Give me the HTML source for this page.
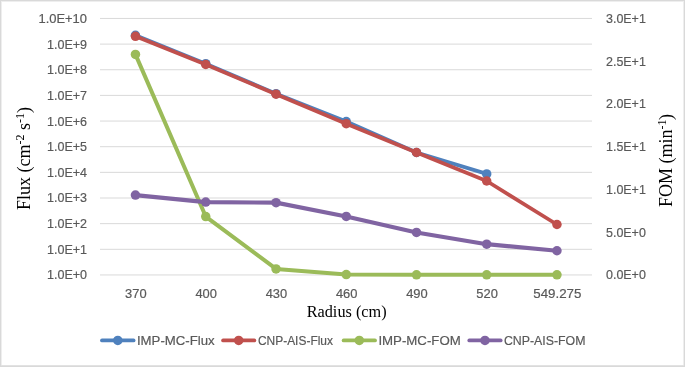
<!DOCTYPE html>
<html><head><meta charset="utf-8"><title>Flux and FOM vs Radius</title>
<style>
html,body{margin:0;padding:0;background:#fff;}
svg{display:block;}
.t{font-family:"Liberation Sans",Arial,sans-serif;font-size:13.5px;fill:#595959;stroke:#595959;stroke-width:0.2px;}
.s{font-family:"Liberation Serif","Times New Roman",serif;font-size:16.25px;fill:#000;}
.s2{font-family:"Liberation Serif","Times New Roman",serif;font-size:18px;fill:#000;}
</style></head><body>
<svg width="685" height="367" viewBox="0 0 685 367">
<rect x="0" y="0" width="685" height="367" fill="#fff"/>
<rect x="1.5" y="1.5" width="682" height="364" fill="none" stroke="#EEEEEE" stroke-width="1"/>
<line x1="1" y1="365.5" x2="684" y2="365.5" stroke="#E2E2E2" stroke-width="1"/>
<rect x="0.5" y="0.5" width="684" height="366" fill="none" stroke="#D9D9D9" stroke-width="1"/>
<line x1="100" y1="274.95" x2="592" y2="274.95" stroke="#D9D9D9" stroke-width="1"/>
<line x1="100" y1="249.30" x2="592" y2="249.30" stroke="#D9D9D9" stroke-width="1"/>
<line x1="100" y1="223.65" x2="592" y2="223.65" stroke="#D9D9D9" stroke-width="1"/>
<line x1="100" y1="198.00" x2="592" y2="198.00" stroke="#D9D9D9" stroke-width="1"/>
<line x1="100" y1="172.35" x2="592" y2="172.35" stroke="#D9D9D9" stroke-width="1"/>
<line x1="100" y1="146.70" x2="592" y2="146.70" stroke="#D9D9D9" stroke-width="1"/>
<line x1="100" y1="121.05" x2="592" y2="121.05" stroke="#D9D9D9" stroke-width="1"/>
<line x1="100" y1="95.40" x2="592" y2="95.40" stroke="#D9D9D9" stroke-width="1"/>
<line x1="100" y1="69.75" x2="592" y2="69.75" stroke="#D9D9D9" stroke-width="1"/>
<line x1="100" y1="44.10" x2="592" y2="44.10" stroke="#D9D9D9" stroke-width="1"/>
<line x1="100" y1="18.45" x2="592" y2="18.45" stroke="#D9D9D9" stroke-width="1"/>
<text x="87.00" y="279.40" text-anchor="end" textLength="40.01" lengthAdjust="spacingAndGlyphs" class="t">1.0E+0</text>
<text x="87.00" y="253.75" text-anchor="end" textLength="40.01" lengthAdjust="spacingAndGlyphs" class="t">1.0E+1</text>
<text x="87.00" y="228.10" text-anchor="end" textLength="40.01" lengthAdjust="spacingAndGlyphs" class="t">1.0E+2</text>
<text x="87.00" y="202.45" text-anchor="end" textLength="40.01" lengthAdjust="spacingAndGlyphs" class="t">1.0E+3</text>
<text x="87.00" y="176.80" text-anchor="end" textLength="40.01" lengthAdjust="spacingAndGlyphs" class="t">1.0E+4</text>
<text x="87.00" y="151.15" text-anchor="end" textLength="40.01" lengthAdjust="spacingAndGlyphs" class="t">1.0E+5</text>
<text x="87.00" y="125.50" text-anchor="end" textLength="40.01" lengthAdjust="spacingAndGlyphs" class="t">1.0E+6</text>
<text x="87.00" y="99.85" text-anchor="end" textLength="40.01" lengthAdjust="spacingAndGlyphs" class="t">1.0E+7</text>
<text x="87.00" y="74.20" text-anchor="end" textLength="40.01" lengthAdjust="spacingAndGlyphs" class="t">1.0E+8</text>
<text x="87.00" y="48.55" text-anchor="end" textLength="40.01" lengthAdjust="spacingAndGlyphs" class="t">1.0E+9</text>
<text x="87.00" y="22.90" text-anchor="end" textLength="48.47" lengthAdjust="spacingAndGlyphs" class="t">1.0E+10</text>
<text x="606.00" y="279.40" textLength="39.83" lengthAdjust="spacingAndGlyphs" class="t">0.0E+0</text>
<text x="606.00" y="236.65" textLength="39.83" lengthAdjust="spacingAndGlyphs" class="t">5.0E+0</text>
<text x="606.00" y="193.90" textLength="39.83" lengthAdjust="spacingAndGlyphs" class="t">1.0E+1</text>
<text x="606.00" y="151.15" textLength="39.83" lengthAdjust="spacingAndGlyphs" class="t">1.5E+1</text>
<text x="606.00" y="108.40" textLength="39.83" lengthAdjust="spacingAndGlyphs" class="t">2.0E+1</text>
<text x="606.00" y="65.65" textLength="39.83" lengthAdjust="spacingAndGlyphs" class="t">2.5E+1</text>
<text x="606.00" y="22.90" textLength="39.83" lengthAdjust="spacingAndGlyphs" class="t">3.0E+1</text>
<text x="135.85" y="298.30" text-anchor="middle" textLength="21.52" lengthAdjust="spacingAndGlyphs" class="t">370</text>
<text x="206.15" y="298.30" text-anchor="middle" textLength="21.52" lengthAdjust="spacingAndGlyphs" class="t">400</text>
<text x="276.45" y="298.30" text-anchor="middle" textLength="21.52" lengthAdjust="spacingAndGlyphs" class="t">430</text>
<text x="346.65" y="298.30" text-anchor="middle" textLength="21.52" lengthAdjust="spacingAndGlyphs" class="t">460</text>
<text x="416.90" y="298.30" text-anchor="middle" textLength="21.52" lengthAdjust="spacingAndGlyphs" class="t">490</text>
<text x="487.10" y="298.30" text-anchor="middle" textLength="21.52" lengthAdjust="spacingAndGlyphs" class="t">520</text>
<text x="557.35" y="298.30" text-anchor="middle" textLength="48.19" lengthAdjust="spacingAndGlyphs" class="t">549.275</text>
<text x="306.7" y="317.4" class="s">Radius (cm)</text>
<text transform="translate(30.2,210.0) rotate(-90)" class="s2">Flux (cm<tspan font-size="12" dy="-6">-2</tspan><tspan dy="6"> s</tspan><tspan font-size="12" dy="-6">-1</tspan><tspan dy="6">)</tspan></text>
<text transform="translate(672.2,207.0) rotate(-90)" class="s2">FOM (min<tspan font-size="12" dy="-6">-1</tspan><tspan dy="6" dx="-0.5">)</tspan></text>
<polyline points="135.45,35.30 205.75,63.70 276.05,93.70 346.25,121.60 416.50,152.50 486.70,173.90" fill="none" stroke="#4F81BD" stroke-width="3.8" stroke-linejoin="round" stroke-linecap="round"/><circle cx="135.45" cy="35.30" r="4.75" fill="#4F81BD"/><circle cx="205.75" cy="63.70" r="4.75" fill="#4F81BD"/><circle cx="276.05" cy="93.70" r="4.75" fill="#4F81BD"/><circle cx="346.25" cy="121.60" r="4.75" fill="#4F81BD"/><circle cx="416.50" cy="152.50" r="4.75" fill="#4F81BD"/><circle cx="486.70" cy="173.90" r="4.75" fill="#4F81BD"/>
<polyline points="135.45,36.30 205.75,64.50 276.05,94.20 346.25,123.70 416.50,152.50 486.70,181.00 556.95,224.50" fill="none" stroke="#C0504D" stroke-width="3.8" stroke-linejoin="round" stroke-linecap="round"/><circle cx="135.45" cy="36.30" r="4.75" fill="#C0504D"/><circle cx="205.75" cy="64.50" r="4.75" fill="#C0504D"/><circle cx="276.05" cy="94.20" r="4.75" fill="#C0504D"/><circle cx="346.25" cy="123.70" r="4.75" fill="#C0504D"/><circle cx="416.50" cy="152.50" r="4.75" fill="#C0504D"/><circle cx="486.70" cy="181.00" r="4.75" fill="#C0504D"/><circle cx="556.95" cy="224.50" r="4.75" fill="#C0504D"/>
<polyline points="135.45,54.40 205.75,216.55 276.05,268.90 346.25,274.60 416.50,274.80 486.70,274.80 556.95,274.80" fill="none" stroke="#9BBB59" stroke-width="4.0" stroke-linejoin="round" stroke-linecap="round"/><circle cx="135.45" cy="54.40" r="4.75" fill="#9BBB59"/><circle cx="205.75" cy="216.55" r="4.75" fill="#9BBB59"/><circle cx="276.05" cy="268.90" r="4.75" fill="#9BBB59"/><circle cx="346.25" cy="274.60" r="4.75" fill="#9BBB59"/><circle cx="416.50" cy="274.80" r="4.75" fill="#9BBB59"/><circle cx="486.70" cy="274.80" r="4.75" fill="#9BBB59"/><circle cx="556.95" cy="274.80" r="4.75" fill="#9BBB59"/>
<polyline points="135.45,195.10 205.75,202.10 276.05,202.66 346.25,216.46 416.50,232.46 486.70,244.20 556.95,250.75" fill="none" stroke="#8064A2" stroke-width="4.2" stroke-linejoin="round" stroke-linecap="round"/><circle cx="135.45" cy="195.10" r="4.75" fill="#8064A2"/><circle cx="205.75" cy="202.10" r="4.75" fill="#8064A2"/><circle cx="276.05" cy="202.66" r="4.75" fill="#8064A2"/><circle cx="346.25" cy="216.46" r="4.75" fill="#8064A2"/><circle cx="416.50" cy="232.46" r="4.75" fill="#8064A2"/><circle cx="486.70" cy="244.20" r="4.75" fill="#8064A2"/><circle cx="556.95" cy="250.75" r="4.75" fill="#8064A2"/>
<line x1="102.00" y1="340.4" x2="133.60" y2="340.4" stroke="#4F81BD" stroke-width="3.8" stroke-linecap="round"/>
<circle cx="117.80" cy="340.4" r="4.75" fill="#4F81BD"/>
<text x="136.96" y="344.90" textLength="77.70" lengthAdjust="spacingAndGlyphs" class="t">IMP-MC-Flux</text>
<line x1="223.10" y1="340.4" x2="254.30" y2="340.4" stroke="#C0504D" stroke-width="3.8" stroke-linecap="round"/>
<circle cx="238.70" cy="340.4" r="4.75" fill="#C0504D"/>
<text x="257.90" y="344.90" textLength="75.12" lengthAdjust="spacingAndGlyphs" class="t">CNP-AIS-Flux</text>
<line x1="343.65" y1="340.4" x2="375.00" y2="340.4" stroke="#9BBB59" stroke-width="3.8" stroke-linecap="round"/>
<circle cx="359.32" cy="340.4" r="4.75" fill="#9BBB59"/>
<text x="378.40" y="344.90" textLength="82.36" lengthAdjust="spacingAndGlyphs" class="t">IMP-MC-FOM</text>
<line x1="469.30" y1="340.4" x2="500.65" y2="340.4" stroke="#8064A2" stroke-width="3.8" stroke-linecap="round"/>
<circle cx="484.98" cy="340.4" r="4.75" fill="#8064A2"/>
<text x="503.90" y="344.90" textLength="81.61" lengthAdjust="spacingAndGlyphs" class="t">CNP-AIS-FOM</text>
</svg>
</body></html>
